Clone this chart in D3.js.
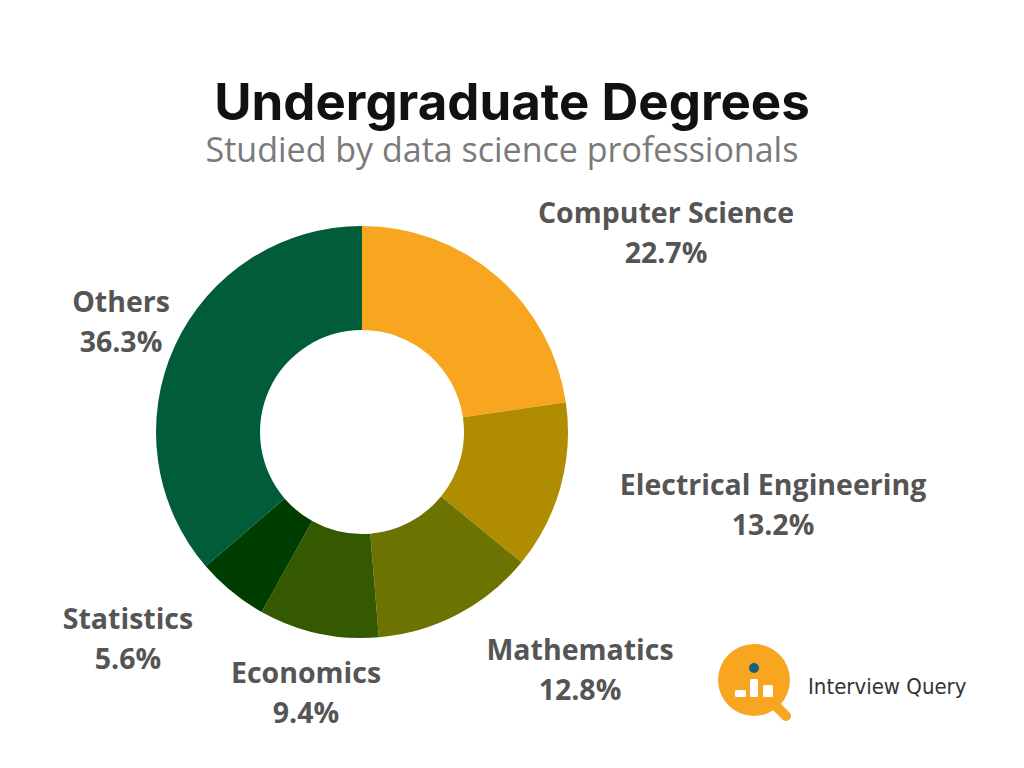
<!DOCTYPE html>
<html><head><meta charset="utf-8">
<script src="https://cdn.jsdelivr.net/npm/d3@7"></script>
<style>body{margin:0;background:#fff}</style>
</head><body><div id="chart"></div>
<script>
const categories = ["Computer Science", "Electrical Engineering", "Mathematics", "Economics", "Statistics", "Others"];
const values = [22.7, 13.2, 12.8, 9.4, 5.6, 36.3];
const colors = ["#F8A51F", "#AF8C00", "#6D7300", "#345900", "#003D00", "#005C39"];
// label anchor points (text centre, first line baseline)
const labelPos = [[666, 223], [773, 495], [580, 660], [306, 683], [128, 629], [121, 312]];

const svg = d3.select("#chart").append("svg").attr("width", 1024).attr("height", 768);

svg.append("text").attr("x", 512).attr("y", 120).attr("text-anchor", "middle")
  .attr("font-family", "Inter").attr("font-weight", "700").attr("font-size", "51px")
  .attr("fill", "#111").text("Undergraduate Degrees");
svg.append("text").attr("x", 502).attr("y", 162).attr("text-anchor", "middle")
  .attr("font-family", "Open Sans").attr("font-size", "34px")
  .attr("fill", "#7a7a7a").text("Studied by data science professionals");

const pie = d3.pie().sort(null).value(d => d)(values);
const arc = d3.arc().innerRadius(102).outerRadius(206);
const g = svg.append("g").attr("transform", "translate(362,432)");
g.selectAll("path").data(pie).enter().append("path")
  .attr("d", arc).attr("fill", (d, i) => colors[i]);

const labels = svg.selectAll(".lab").data(categories).enter().append("text")
  .attr("text-anchor", "middle").attr("font-family", "Open Sans").attr("font-weight", "700")
  .attr("font-size", "28.5px").attr("fill", "#555");
labels.append("tspan").attr("x", (d, i) => labelPos[i][0]).attr("y", (d, i) => labelPos[i][1]).text(d => d);
labels.append("tspan").attr("x", (d, i) => labelPos[i][0]).attr("y", (d, i) => labelPos[i][1] + 40)
  .text((d, i) => values[i].toFixed(1) + "%");

// logo
const logo = svg.append("g");
logo.append("line").attr("x1", 770).attr("y1", 700).attr("x2", 786).attr("y2", 716)
  .attr("stroke", "#F8A51F").attr("stroke-width", 10).attr("stroke-linecap", "round");
logo.append("circle").attr("cx", 754).attr("cy", 680).attr("r", 36).attr("fill", "#F8A51F");
logo.append("circle").attr("cx", 754).attr("cy", 668).attr("r", 5).attr("fill", "#17607e");
[[735, 690, 11, 7], [750, 679, 8, 18], [763, 685, 10, 12]].forEach(b =>
  logo.append("rect").attr("x", b[0]).attr("y", b[1]).attr("width", b[2]).attr("height", b[3])
    .attr("rx", 1.5).attr("fill", "#fff"));
svg.append("text").attr("x", 808).attr("y", 694).attr("font-family", "DejaVu Sans Condensed")
  .attr("font-size", "22px").attr("fill", "#333").text("Interview Query");
</script></body></html>
